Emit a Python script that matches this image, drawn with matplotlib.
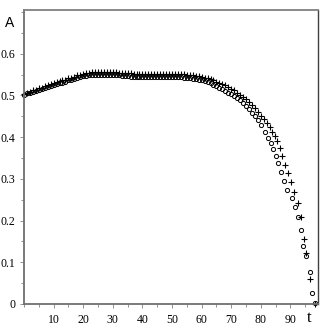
import numpy as np
import matplotlib
matplotlib.use("Agg")
import matplotlib.pyplot as plt
from matplotlib.ticker import MultipleLocator

# circles (o) - sampled about 1 unit apart, then the steep tail
t_o_head = np.arange(0, 81)
a_o_head = [0.502, 0.505, 0.507, 0.509, 0.511, 0.514, 0.516, 0.518, 0.520, 0.523,
            0.525, 0.527, 0.529, 0.531, 0.533, 0.536, 0.538, 0.540, 0.542, 0.544,
            0.546, 0.547, 0.548, 0.549, 0.549, 0.549, 0.549, 0.549, 0.549, 0.549,
            0.549, 0.548, 0.548, 0.547, 0.547, 0.546, 0.545, 0.545, 0.544, 0.544,
            0.544, 0.544, 0.544, 0.544, 0.544, 0.544, 0.544, 0.544, 0.544, 0.544,
            0.544, 0.544, 0.544, 0.544, 0.543, 0.542, 0.541, 0.540, 0.539, 0.538,
            0.537, 0.535, 0.532, 0.529, 0.526, 0.522, 0.518, 0.515, 0.511, 0.507,
            0.503, 0.498, 0.493, 0.488, 0.482, 0.475, 0.467, 0.459, 0.451, 0.441,
            0.430]
t_o_tail = [81.5, 82.4, 83.3, 84.2, 85.0, 85.9, 86.8, 87.7, 88.9, 90.6, 91.4,
            92.5, 93.4, 94.4, 95.3, 96.5, 97.2, 98.3]
a_o_tail = [0.413, 0.399, 0.385, 0.371, 0.355, 0.337, 0.316, 0.296, 0.274, 0.253, 0.232,
            0.208, 0.177, 0.139, 0.115, 0.077, 0.026, 0.002]

# crosses (+)
t_p_head = np.arange(0, 83)
a_p_head = [0.504, 0.507, 0.509, 0.512, 0.514, 0.517, 0.519, 0.522, 0.524, 0.527,
            0.529, 0.532, 0.534, 0.536, 0.538, 0.541, 0.543, 0.545, 0.548, 0.550,
            0.552, 0.554, 0.555, 0.556, 0.556, 0.557, 0.557, 0.557, 0.557, 0.557,
            0.556, 0.556, 0.555, 0.555, 0.554, 0.553, 0.553, 0.552, 0.552, 0.551,
            0.551, 0.551, 0.551, 0.551, 0.551, 0.551, 0.551, 0.551, 0.551, 0.551,
            0.551, 0.551, 0.551, 0.551, 0.551, 0.550, 0.549, 0.548, 0.547, 0.546,
            0.545, 0.543, 0.541, 0.539, 0.536, 0.533, 0.530, 0.527, 0.524, 0.520,
            0.516, 0.512, 0.507, 0.502, 0.497, 0.491, 0.484, 0.477, 0.469, 0.461,
            0.452, 0.443, 0.433]
t_p_tail = [83.0, 83.9, 84.7, 85.5, 86.4, 87.2, 88.2, 89.2, 90.3, 91.3, 92.5,
            93.7, 94.5, 95.4, 96.5, 98.3]
a_p_tail = [0.424, 0.413, 0.403, 0.390, 0.373, 0.354, 0.334, 0.313, 0.292, 0.269, 0.241,
            0.208, 0.155, 0.122, 0.059, 0.0]

t_o = np.concatenate([t_o_head, t_o_tail])
a_o = np.concatenate([a_o_head, a_o_tail])
t_p = np.concatenate([t_p_head, t_p_tail])
a_p = np.concatenate([a_p_head, a_p_tail])

fig = plt.figure(figsize=(3.27, 3.27), dpi=100)
ax = fig.add_axes([24/327, 23/327, 293.7/327, 294/327])

ax.plot(t_p, a_p, '+', color='black', ms=3.8, mew=0.8, clip_on=False)
ax.plot(t_o, a_o, 'o', mfc='none', mec='black', ms=3.0, mew=0.7, clip_on=False)

ax.set_xlim(0, 99.2)
ax.set_ylim(0, 0.705)

ax.xaxis.set_major_locator(MultipleLocator(10))
ax.xaxis.set_minor_locator(MultipleLocator(5))
ax.yaxis.set_major_locator(MultipleLocator(0.1))
ax.yaxis.set_minor_locator(MultipleLocator(0.05))
ax.set_xticks([10, 20, 30, 40, 50, 60, 70, 80, 90])
ax.set_xticklabels(['10', '20', '30', '40', '50', '60', '70', '80', '90'])
ax.set_yticks([0, 0.1, 0.2, 0.3, 0.4, 0.5, 0.6])
ax.set_yticklabels(['0', '0.1', '0.2', '0.3', '0.4', '0.5', '0.6'])

for lab in ax.get_xticklabels() + ax.get_yticklabels():
    lab.set_family('Liberation Serif')
    lab.set_fontsize(8.5)
ax.tick_params(which='both', direction='out', color='#808080', width=0.6)
ax.tick_params(which='major', length=3, pad=3)
ax.tick_params(which='minor', length=2)
ax.tick_params(axis='x', pad=4)

for side in ['left', 'bottom']:
    ax.spines[side].set_color('#707070')
    ax.spines[side].set_linewidth(1.3)
ax.spines['top'].set_color('#808080')
ax.spines['top'].set_linewidth(1.3)
ax.spines['right'].set_color('#404040')
ax.spines['right'].set_linewidth(1.0)

fig.text(10/327, 1 - 23/327, 'A', family='Liberation Sans', fontsize=10,
         ha='center', va='center')
fig.text(309/327, 1 - 318/327, 't', family='Liberation Serif', fontsize=12,
         ha='center', va='center')

fig.savefig('out.png', dpi=100)
